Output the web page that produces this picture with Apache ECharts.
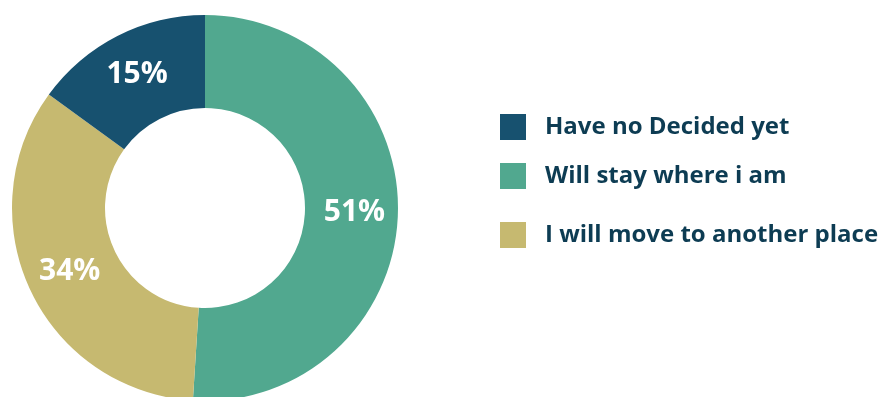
<!DOCTYPE html>
<html>
<head>
<meta charset="utf-8">
<script src="https://cdn.jsdelivr.net/npm/echarts@6/dist/echarts.min.js"></script>
<style>
  html, body { margin: 0; padding: 0; background: #ffffff; }
  #chart { width: 887px; height: 397px; }
</style>
</head>
<body>
<div id="chart"></div>
<script>
// Survey answers, drawn clockwise from 12 o'clock
const categories = ['Will stay where i am', 'I will move to another place', 'Have no Decided yet'];
const values = [51, 34, 15];
// Legend rows are listed in this order
const legendOrder = ['Have no Decided yet', 'Will stay where i am', 'I will move to another place'];

const sliceColors = {
  'Have no Decided yet': '#17516f',
  'Will stay where i am': '#51a88f',
  'I will move to another place': '#c6b970'
};
const legendTops = [114, 163, 222];
const fontStack = '"Open Sans", "Noto Sans", sans-serif';

const chart = echarts.init(document.getElementById('chart'), null, { renderer: 'canvas' });

const pieData = categories.map((name, i) => ({
  name: name,
  value: values[i],
  itemStyle: { color: sliceColors[name] }
}));

const legends = legendOrder.map((name, i) => ({
  data: [name],
  left: 500,
  top: legendTops[i],
  padding: 0,
  orient: 'vertical',
  icon: 'rect',
  itemWidth: 26,
  itemHeight: 26,
  selectedMode: false,
  textStyle: {
    color: '#0d3c53',
    fontFamily: fontStack,
    fontWeight: 'bold',
    fontSize: 24,
    padding: [0, 0, 0, 14]
  }
}));

chart.setOption({
  animation: false,
  backgroundColor: '#ffffff',
  legend: legends,
  series: [{
    type: 'pie',
    center: [205, 208],
    radius: [100, 193],
    startAngle: 90,
    clockwise: true,
    silent: true,
    data: pieData,
    label: {
      show: true,
      position: 'inside',
      formatter: '{c}%',
      color: '#ffffff',
      fontFamily: fontStack,
      fontWeight: 'bold',
      fontSize: 30
    },
    labelLine: { show: false }
  }]
});
</script>
</body>
</html>
